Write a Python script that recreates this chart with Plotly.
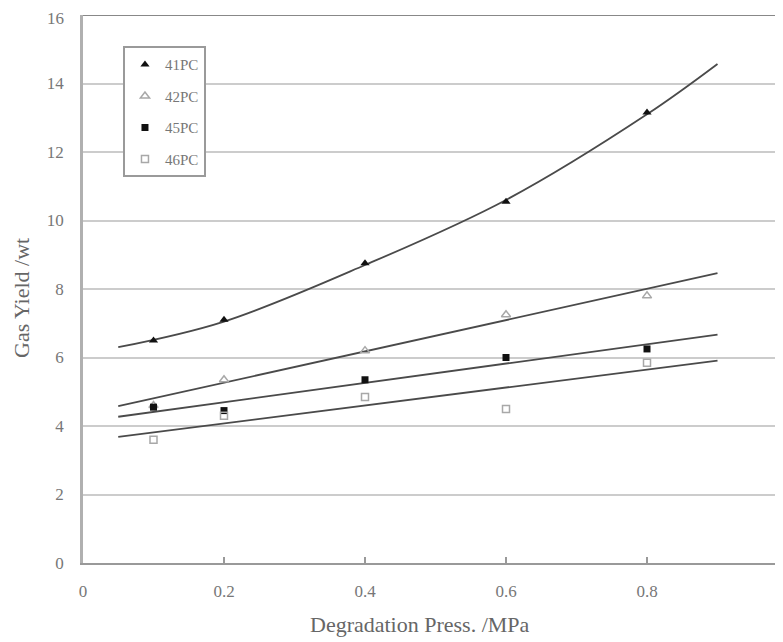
import plotly.graph_objects as go

# Data
pressure = [0.1, 0.2, 0.4, 0.6, 0.8]
series_names = ["41PC", "42PC", "45PC", "46PC"]
y_41 = [6.5, 7.1, 8.75, 10.55, 13.15]
y_42 = [4.6, 5.35, 6.2, 7.25, 7.8]
y_45 = [4.55, 4.45, 5.35, 6.0, 6.25]
y_46 = [3.6, 4.3, 4.85, 4.5, 5.85]

# Trend lines
trend_x_41 = [0.05, 0.2, 0.4, 0.6, 0.8, 0.9]
trend_y_41 = [6.3, 7.05, 8.7, 10.6, 13.1, 14.57]
trend_x_lin = [0.05, 0.9]
trend_y_42 = [4.58, 8.46]
trend_y_45 = [4.27, 6.67]
trend_y_46 = [3.68, 5.91]

y_ticks = [0, 2, 4, 6, 8, 10, 12, 14, 16]
x_ticks = [0, 0.2, 0.4, 0.6, 0.8]
x_tick_labels = ["0", "0.2", "0.4", "0.6", "0.8"]
x_title = "Degradation Press. /MPa"
y_title = "Gas Yield /wt"

FONT = "Liberation Serif"
fig = go.Figure()

# trend lines
for tx, ty, shape in [(trend_x_41, trend_y_41, "spline"), (trend_x_lin, trend_y_42, "linear"),
                      (trend_x_lin, trend_y_45, "linear"), (trend_x_lin, trend_y_46, "linear")]:
    fig.add_trace(go.Scatter(x=tx, y=ty, mode="lines", showlegend=False, hoverinfo="skip",
                             line=dict(color="#4a4a4a", width=1.8, shape=shape)))

styles = [
    dict(symbol="triangle-up", color="#111111", size=8),
    dict(symbol="triangle-up-open", color="#a8a8a8", size=8, line=dict(width=1.5, color="#a8a8a8")),
    dict(symbol="square", color="#111111", size=7),
    dict(symbol="square-open", color="#a8a8a8", size=7, line=dict(width=1.5, color="#a8a8a8")),
]
for i, (name, ys) in enumerate(zip(series_names, [y_41, y_42, y_45, y_46])):
    fig.add_trace(go.Scatter(x=pressure, y=ys, mode="markers", name=name, legendgroup=name,
                             marker=styles[i]))

fig.add_shape(type="line", xref="paper", yref="y", x0=0, x1=1, y0=y_ticks[-1], y1=y_ticks[-1],
              line=dict(color="#888888", width=2))

# top tick label (would otherwise be clipped at the page edge)
fig.add_annotation(text=str(y_ticks[-1]), xref="paper", yref="y", x=-0.0255, y=y_ticks[-1],
                   xanchor="right", yanchor="middle", showarrow=False, yshift=-3, borderpad=0,
                   font=dict(family=FONT, size=17, color="#777777"))

fig.add_annotation(text=x_title, xref="paper", yref="paper", x=0.478, y=-0.113,
                   xanchor="center", yanchor="middle", showarrow=False,
                   font=dict(family=FONT, size=22, color="#666666"))
fig.add_annotation(text=y_title, xref="paper", yref="paper", x=-0.0865, y=0.4836,
                   xanchor="center", yanchor="middle", showarrow=False, textangle=-90,
                   font=dict(family=FONT, size=22, color="#666666"))

fig.update_layout(
    width=783, height=642,
    margin=dict(l=75, r=3, t=7, b=87, autoexpand=False),
    paper_bgcolor="white", plot_bgcolor="white",
    font=dict(family=FONT, color="#666666", size=16),
    legend=dict(x=0.0567, y=0.943, xanchor="left", yanchor="top",
                bgcolor="white", bordercolor="#9a9a9a", borderwidth=2,
                font=dict(family=FONT, size=15, color="#777777"),
                itemwidth=30,
                traceorder="grouped", tracegroupgap=9),
    xaxis=dict(range=[0, 1.0], tickvals=x_ticks, ticktext=x_tick_labels, automargin=False,
               showgrid=False, zeroline=False, showline=True, linecolor="#999999", linewidth=2,
               ticks="inside", ticklen=6, tickcolor="#999999", tickwidth=1.5,
               ticklabelstandoff=12,
               tickfont=dict(family=FONT, size=17, color="#777777")),
    yaxis=dict(range=[0, 16], tickvals=y_ticks[:-1], showgrid=True, gridcolor="#cccccc", gridwidth=2,
               zeroline=False, showline=True, linecolor="#b0b0b0", linewidth=2.5, automargin=False,
               ticks="", ticklabelstandoff=13,
               tickfont=dict(family=FONT, size=17, color="#777777")),
)

fig.write_html("out.html")
